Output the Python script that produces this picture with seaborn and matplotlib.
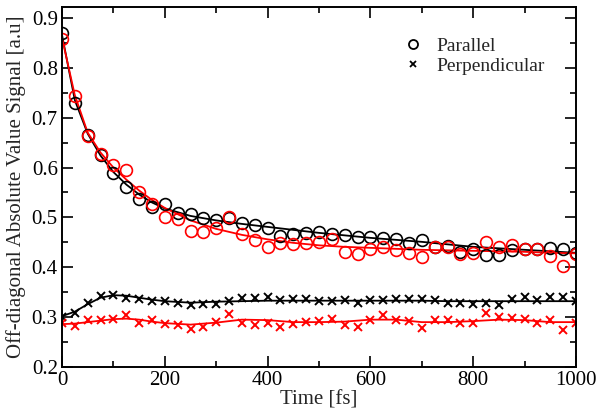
import numpy as np
import pandas as pd
import matplotlib
matplotlib.use("Agg")
import matplotlib.pyplot as plt
from matplotlib.lines import Line2D
from matplotlib.ticker import MultipleLocator
import seaborn as sns

# ---------------- data ----------------
time_fs = list(range(0, 1001, 25))

parallel_black = [0.869, 0.729, 0.666, 0.626, 0.589, 0.561, 0.536, 0.521, 0.526, 0.509,
                  0.507, 0.498, 0.495, 0.498, 0.488, 0.484, 0.479, 0.463, 0.466, 0.468,
                  0.470, 0.467, 0.464, 0.461, 0.461, 0.459, 0.456, 0.449, 0.455, 0.441,
                  0.443, 0.431, 0.437, 0.424, 0.424, 0.434, 0.437, 0.436, 0.439, 0.437,
                  0.428]
parallel_red = [0.858, 0.743, 0.663, 0.627, 0.606, 0.596, 0.551, 0.526, 0.501, 0.497,
                0.473, 0.471, 0.478, 0.501, 0.466, 0.455, 0.441, 0.449, 0.446, 0.448,
                0.450, 0.456, 0.431, 0.427, 0.436, 0.441, 0.434, 0.429, 0.421, 0.441,
                0.441, 0.426, 0.428, 0.451, 0.441, 0.444, 0.436, 0.436, 0.423, 0.403,
                0.426]
perp_black = [0.301, 0.309, 0.329, 0.343, 0.344, 0.339, 0.336, 0.332, 0.332, 0.328,
              0.325, 0.327, 0.326, 0.333, 0.339, 0.339, 0.341, 0.335, 0.337, 0.336,
              0.333, 0.332, 0.335, 0.329, 0.335, 0.335, 0.337, 0.336, 0.336, 0.334,
              0.328, 0.329, 0.326, 0.328, 0.325, 0.336, 0.341, 0.334, 0.341, 0.341,
              0.333]
perp_red = [0.289, 0.283, 0.294, 0.295, 0.297, 0.304, 0.289, 0.294, 0.286, 0.284,
            0.277, 0.281, 0.291, 0.306, 0.289, 0.284, 0.288, 0.281, 0.286, 0.291,
            0.292, 0.297, 0.284, 0.281, 0.295, 0.304, 0.295, 0.293, 0.278, 0.295,
            0.295, 0.289, 0.289, 0.308, 0.301, 0.298, 0.297, 0.289, 0.295, 0.275,
            0.289]

# fitted curves
fit_time = [0, 25, 50, 75, 100, 125, 150, 175, 200, 250, 300, 350, 400, 450, 500,
            550, 600, 650, 700, 750, 800, 850, 900, 950, 1000]
fit_parallel_black = [0.866, 0.735, 0.668, 0.624, 0.591, 0.566, 0.546, 0.530, 0.518, 0.503,
                      0.494, 0.487, 0.481, 0.475, 0.469, 0.464, 0.459, 0.455, 0.451, 0.446,
                      0.441, 0.438, 0.435, 0.432, 0.429]
fit_parallel_red = [0.860, 0.745, 0.670, 0.630, 0.600, 0.576, 0.554, 0.535, 0.519, 0.494,
                    0.477, 0.465, 0.456, 0.449, 0.444, 0.441, 0.439, 0.437, 0.435, 0.434,
                    0.433, 0.432, 0.431, 0.429, 0.428]
fit_perp_black = [0.302, 0.311, 0.326, 0.339, 0.344, 0.343, 0.339, 0.335, 0.332, 0.329,
                  0.331, 0.332, 0.333, 0.333, 0.333, 0.333, 0.333, 0.333, 0.333, 0.332,
                  0.332, 0.332, 0.332, 0.332, 0.332]
fit_perp_red = [0.286, 0.287, 0.290, 0.293, 0.296, 0.297, 0.295, 0.291, 0.288, 0.285,
                0.289, 0.295, 0.294, 0.290, 0.290, 0.291, 0.295, 0.295, 0.290, 0.290,
                0.292, 0.295, 0.294, 0.290, 0.290]

x_ticks = [0, 200, 400, 600, 800, 1000]
y_ticks = [0.2, 0.3, 0.4, 0.5, 0.6, 0.7, 0.8, 0.9]
legend_labels = ["Parallel", "Perpendicular"]

# ---------------- style ----------------
sns.set_style("ticks")
plt.rcParams["font.family"] = ["Liberation Serif", "DejaVu Serif"]

fig = plt.figure(figsize=(6.04, 4.19), dpi=100)
ax = fig.add_axes([62 / 604, 1 - 367 / 419, (576 - 62) / 604, (367 - 7) / 419])

RED = "#ff0000"
BLACK = "#000000"

# fitted lines
for yy, col in [(fit_parallel_black, BLACK), (fit_parallel_red, RED),
                (fit_perp_black, BLACK), (fit_perp_red, RED)]:
    sns.lineplot(x=fit_time, y=yy, color=col, linewidth=1.3, ax=ax,
                 estimator=None, sort=False)

# markers
for yy, col in [(parallel_black, BLACK), (parallel_red, RED)]:
    sns.lineplot(x=time_fs, y=yy, ax=ax, estimator=None, sort=False,
                 linestyle="", marker="o", markersize=8.5, markerfacecolor="none",
                 markeredgecolor=col, markeredgewidth=1.2, color=col)
for yy, col in [(perp_black, BLACK), (perp_red, RED)]:
    sns.lineplot(x=time_fs, y=yy, ax=ax, estimator=None, sort=False,
                 linestyle="", marker="x", markersize=5.5,
                 markeredgecolor=col, markeredgewidth=1.4, color=col)

ax.set_xlim(0, 1000)
ax.set_ylim(0.2, 0.922)
ax.set_xticks(x_ticks)
ax.set_yticks(y_ticks)
ax.set_xticklabels([str(v) for v in x_ticks])
ax.set_yticklabels([f"{v:.1f}" for v in y_ticks])
ax.xaxis.set_minor_locator(MultipleLocator(100))
ax.yaxis.set_minor_locator(MultipleLocator(0.05))
ax.tick_params(which="both", direction="in", top=True, right=True,
               width=1.2, colors="black", labelsize=15, pad=3)
ax.tick_params(which="major", length=8)
ax.tick_params(which="minor", length=4)
for sp in ax.spines.values():
    sp.set_linewidth(1.4)
    sp.set_color("black")

ax.set_xlabel("Time [fs]", fontsize=15, labelpad=0)
ax.set_ylabel("Off-diagonal Absolute Value Signal [a.u]", fontsize=15, labelpad=4)

handles = [Line2D([], [], linestyle="", marker="o", markersize=6.5, markerfacecolor="none",
                  markeredgecolor=BLACK, markeredgewidth=1.3),
           Line2D([], [], linestyle="", marker="x", markersize=4.5, markeredgecolor=BLACK,
                  markeredgewidth=1.3)]
ax.legend(handles, legend_labels, loc="upper left", bbox_to_anchor=(0.649, 0.937),
          frameon=False, fontsize=14, handlelength=1.0, handletextpad=0.7,
          labelspacing=0.1, borderaxespad=0)

fig.savefig("out.png", dpi=100)
